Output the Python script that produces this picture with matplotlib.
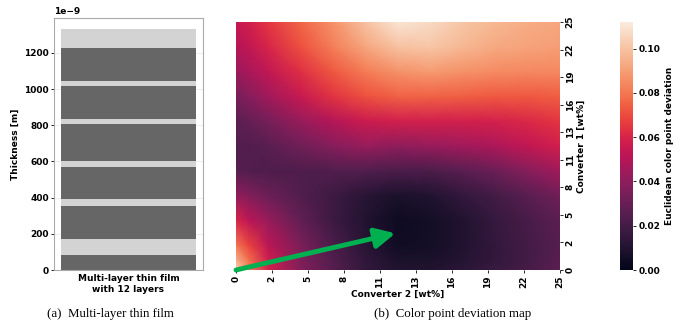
import numpy as np
import matplotlib
matplotlib.use("Agg")
import matplotlib.pyplot as plt
import seaborn as sns

# ---- data: multilayer thin film (thickness in m) ----
layer_thickness = [85e-9, 85e-9, 185e-9, 35e-9, 180e-9, 30e-9, 205e-9, 30e-9,
                   180e-9, 30e-9, 180e-9, 105e-9]
layer_colors = ["#666666", "#d3d3d3"] * 6
film_label = "Multi-layer thin film\nwith 12 layers"

# ---- data: color point deviation map ----
conv2 = [0, 1, 2.5, 5, 7.5, 10, 12.5, 15, 17.5, 20, 22.5, 25]   # x
conv1 = [0, 1, 2.5, 5, 7.5, 10, 12.5, 15, 17.5, 20, 22.5, 25]   # y
deviation = [
    [0.105, 0.082, 0.058, 0.037, 0.025, 0.015, 0.010, 0.010, 0.013, 0.017, 0.021, 0.027],
    [0.095, 0.078, 0.057, 0.036, 0.024, 0.014, 0.008, 0.008, 0.011, 0.015, 0.020, 0.026],
    [0.080, 0.068, 0.052, 0.035, 0.022, 0.012, 0.005, 0.006, 0.010, 0.015, 0.020, 0.025],
    [0.060, 0.052, 0.042, 0.028, 0.018, 0.010, 0.004, 0.006, 0.010, 0.016, 0.021, 0.027],
    [0.041, 0.037, 0.031, 0.024, 0.018, 0.012, 0.008, 0.010, 0.015, 0.020, 0.026, 0.032],
    [0.025, 0.024, 0.023, 0.023, 0.024, 0.024, 0.022, 0.022, 0.026, 0.031, 0.038, 0.045],
    [0.024, 0.024, 0.026, 0.032, 0.038, 0.042, 0.040, 0.042, 0.045, 0.048, 0.053, 0.058],
    [0.027, 0.029, 0.034, 0.042, 0.050, 0.056, 0.058, 0.058, 0.058, 0.059, 0.061, 0.065],
    [0.034, 0.038, 0.045, 0.055, 0.064, 0.071, 0.075, 0.075, 0.074, 0.073, 0.073, 0.074],
    [0.043, 0.047, 0.053, 0.063, 0.073, 0.081, 0.087, 0.089, 0.087, 0.085, 0.084, 0.084],
    [0.050, 0.053, 0.060, 0.071, 0.082, 0.092, 0.100, 0.101, 0.097, 0.093, 0.091, 0.090],
    [0.055, 0.058, 0.065, 0.076, 0.087, 0.100, 0.110, 0.107, 0.101, 0.097, 0.094, 0.092],
]
tick_labels = ["0", "2", "5", "8", "11", "13", "16", "19", "22", "25"]
arrow_start = (0, 0)
arrow_end = (12.3, 3.7)
vmax = 0.112
cbar_ticks = [0.00, 0.02, 0.04, 0.06, 0.08, 0.10]

plt.rcParams['font.family'] = ['DejaVu Sans']
FS = 6.5

fig = plt.figure(figsize=(6.85, 3.29), dpi=100)

# ---------------- left panel ----------------
ax1 = fig.add_axes([54/685, 1-270/329, 149/685, 252/329])
bottom = 0.0
for t, c in zip(layer_thickness, layer_colors):
    ax1.bar(0, t, width=0.9, bottom=bottom, color=c, zorder=2)
    bottom += t
ax1.set_xlim(-0.497, 0.497)
ax1.set_ylim(0, 1.393e-6)
ax1.set_xticks([0])
ax1.set_xticklabels([film_label], fontsize=FS, fontweight='bold')
ax1.set_yticks(np.arange(0, 1.3e-6, 2e-7))
fmt = matplotlib.ticker.ScalarFormatter()
fmt.set_powerlimits((-9, -9))
ax1.yaxis.set_major_formatter(fmt)
ax1.yaxis.get_offset_text().set_fontsize(FS)
ax1.yaxis.get_offset_text().set_fontweight('bold')
for lab in ax1.get_yticklabels():
    lab.set_fontweight('bold')
ax1.tick_params(axis='y', labelsize=FS, length=2, width=0.6, pad=1.5)
ax1.tick_params(axis='x', length=0, pad=3)
ax1.set_ylabel("Thickness [m]", fontsize=FS, fontweight='bold', labelpad=3)
ax1.grid(axis='y', color='#ebebeb', linewidth=0.6, zorder=0)
for s in ax1.spines.values():
    s.set_color('#aaaaaa')
    s.set_linewidth(0.8)

# ---------------- heatmap ----------------
ax2 = fig.add_axes([236/685, 1-270/329, 324/685, 248/329])
cmap = sns.color_palette("rocket", as_cmap=True)
X, Y = np.meshgrid(conv2, conv1)
mesh = ax2.pcolormesh(X, Y, np.array(deviation), shading='gouraud',
                      cmap=cmap, vmin=0, vmax=vmax, rasterized=True)
ax2.set_xlim(0, 25)
ax2.set_ylim(0, 25)
pos = np.linspace(0, 25, len(tick_labels))
ax2.set_xticks(pos)
ax2.set_xticklabels(tick_labels, rotation=90, fontsize=FS, fontweight='bold')
ax2.yaxis.tick_right()
ax2.yaxis.set_label_position('right')
ax2.set_yticks(pos)
ax2.set_yticklabels(tick_labels, rotation=90, fontsize=FS, fontweight='bold',
                    va='center')
ax2.tick_params(length=2.5, width=0.6, pad=1.5)
ax2.set_xlabel("Converter 2 [wt%]", fontsize=FS, fontweight='bold', labelpad=1)
ax2.set_ylabel("Converter 1 [wt%]", fontsize=FS, fontweight='bold', labelpad=2)
for s in ax2.spines.values():
    s.set_visible(False)

ax2.annotate('', xy=arrow_end, xytext=arrow_start,
             arrowprops=dict(arrowstyle='-|>,head_length=0.6,head_width=0.3',
                             color='#00b050', lw=3.5, mutation_scale=20,
                             shrinkA=0, shrinkB=0),
             annotation_clip=False, zorder=5)

# ---------------- colorbar ----------------
cax = fig.add_axes([620/685, 1-270/329, 13/685, 248/329])
cb = fig.colorbar(mesh, cax=cax)
cb.outline.set_visible(False)
cb.set_ticks(cbar_ticks)
cb.set_ticklabels([f"{v:.2f}" for v in cbar_ticks])
cax.tick_params(labelsize=FS, length=2.5, width=0.6, pad=1.5)
for lab in cax.get_yticklabels():
    lab.set_fontweight('bold')
cb.set_label("Euclidean color point deviation", fontsize=FS, fontweight='bold',
             labelpad=3)

# ---------------- captions ----------------
fig.text(110/685, 1-314/329, "(a)  Multi-layer thin film", ha='center', va='center',
         fontsize=9.3, family='Liberation Serif')
fig.text(453/685, 1-314/329, "(b)  Color point deviation map", ha='center', va='center',
         fontsize=9.3, family='Liberation Serif')

fig.savefig("out.png", dpi=100)
